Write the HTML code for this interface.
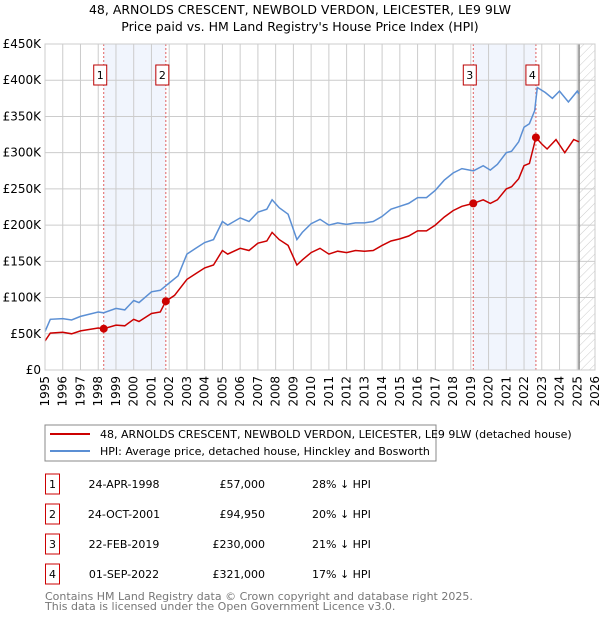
<!DOCTYPE html>
<html><head><meta charset="utf-8"><style>
body{margin:0;background:#fff;font-family:"DejaVu Sans","Liberation Sans",sans-serif;}
svg text{font-family:"DejaVu Sans","Liberation Sans",sans-serif;}
</style></head><body>
<svg id="c" width="600" height="620" xmlns="http://www.w3.org/2000/svg">
<defs><pattern id="hatch" width="6" height="6" patternUnits="userSpaceOnUse" patternTransform="rotate(45)"><line x1="0" y1="0" x2="0" y2="6" stroke="#ccc" stroke-width="1"/></pattern></defs>
<text x="300" y="14" text-anchor="middle" font-size="12.5">48, ARNOLDS CRESCENT, NEWBOLD VERDON, LEICESTER, LE9 9LW</text>
<text x="300" y="31" text-anchor="middle" font-size="12.5">Price paid vs. HM Land Registry's House Price Index (HPI)</text>
<g id="plot"></g>
<rect x="45" y="425" width="391" height="36" fill="#fff" stroke="#888"/>
<line x1="50" y1="434" x2="90" y2="434" stroke="#cc0000" stroke-width="2"/>
<text x="100" y="438" font-size="11">48, ARNOLDS CRESCENT, NEWBOLD VERDON, LEICESTER, LE9 9LW (detached house)</text>
<line x1="50" y1="451" x2="90" y2="451" stroke="#5b8fd4" stroke-width="2"/>
<text x="100" y="455" font-size="11">HPI: Average price, detached house, Hinckley and Bosworth</text>
<g id="table" font-size="11"></g>
<text x="45" y="600" font-size="11" fill="#777">Contains HM Land Registry data © Crown copyright and database right 2025.</text>
<text x="45" y="610" font-size="11" fill="#777">This data is licensed under the Open Government Licence v3.0.</text>
</svg>
<script>
const hpiX=[1995.0,1995.3,1996,1996.5,1997,1998,1998.3,1999,1999.5,2000,2000.3,2001,2001.5,2001.9,2002.5,2003,2003.5,2004,2004.5,2005,2005.3,2006,2006.5,2007,2007.5,2007.8,2008.2,2008.7,2009.2,2009.5,2010,2010.5,2011,2011.5,2012,2012.5,2013,2013.5,2014,2014.5,2015,2015.5,2016,2016.5,2017,2017.5,2018,2018.5,2019.15,2019.7,2020.1,2020.5,2021,2021.3,2021.7,2022,2022.3,2022.6,2022.75,2023.2,2023.6,2024,2024.5,2025.0,2025.1];
const hpiY=[53,70,71,69,74,80,79,85,83,96,93,108,110,118,130,160,168,176,180,205,200,210,205,218,222,235,224,215,180,190,202,208,200,203,201,203,203,205,212,222,226,230,238,238,248,262,272,278,275,282,276,284,300,302,315,335,340,358,390,383,375,385,370,385,381];
const ppX=[1995,1995.3,1996,1996.5,1997,1998,1998.31,1999,1999.5,2000,2000.3,2001,2001.5,2001.81,2002.3,2003,2003.5,2004,2004.5,2005,2005.3,2006,2006.5,2007,2007.5,2007.8,2008.2,2008.7,2009.2,2009.5,2010,2010.5,2011,2011.5,2012,2012.5,2013,2013.5,2014,2014.5,2015,2015.5,2016,2016.5,2017,2017.5,2018,2018.5,2019.14,2019.7,2020.1,2020.5,2021,2021.3,2021.7,2022,2022.3,2022.67,2023.0,2023.3,2023.8,2024.3,2024.8,2025.1];
const ppY=[40,51,52,50,54,58,57,62,61,70,67,78,80,95,103,125,133,141,145,165,160,168,165,175,178,190,180,172,145,152,162,168,160,164,162,165,164,165,172,178,181,185,192,192,200,211,220,226,230,235,230,235,250,253,264,282,285,321,312,305,318,300,318,315];
const saleX=[1998.31,2001.81,2019.14,2022.67];
const saleY=[57,94.95,230,321];
const saleLabels=["1","2","3","4"];
const saleDates=["24-APR-1998","24-OCT-2001","22-FEB-2019","01-SEP-2022"];
const salePrices=["£57,000","£94,950","£230,000","£321,000"];
const saleHpi=["28% ↓ HPI","20% ↓ HPI","21% ↓ HPI","17% ↓ HPI"];
const yTicks=[0,50,100,150,200,250,300,350,400,450];
const yTickLabels=["£0","£50K","£100K","£150K","£200K","£250K","£300K","£350K","£400K","£450K"];
const xYears=[1995,1996,1997,1998,1999,2000,2001,2002,2003,2004,2005,2006,2007,2008,2009,2010,2011,2012,2013,2014,2015,2016,2017,2018,2019,2020,2021,2022,2023,2024,2025,2026];
const L=45,R=595,T=44,B=370,X0=1995,X1=2026,YMAX=450,forecastStart=2025.1;
const sx=v=>L+(v-X0)*(R-L)/(X1-X0);
const sy=v=>B-v*(B-T)/YMAX;
const NS="http://www.w3.org/2000/svg";
function mk(parent,tag,attrs){const e=document.createElementNS(NS,tag);for(const k in attrs)e.setAttribute(k,attrs[k]);parent.appendChild(e);return e;}
const g=document.getElementById('plot');
let e;
e=mk(g,'rect',{x:sx(saleX[0]),y:T,width:sx(saleX[1])-sx(saleX[0]),height:B-T,fill:'#eef3fc',opacity:0.8});


e=mk(g,'rect',{x:sx(saleX[2]),y:T,width:sx(saleX[3])-sx(saleX[2]),height:B-T,fill:'#eef3fc',opacity:0.8});


e=mk(g,'rect',{x:sx(forecastStart),y:T,width:R-sx(forecastStart),height:B-T,fill:'url(#hatch)'});


yTicks.forEach((t,i)=>{
 e=mk(g,'line',{x1:L,x2:R,y1:sy(t),y2:sy(t),stroke:'#ccc'});
 
 
 e=mk(g,'text',{x:L-4,y:sy(t)+4,'text-anchor':'end','font-size':'12'});e.textContent=yTickLabels[i];
 
 
});
xYears.forEach(yr=>{
 e=mk(g,'line',{x1:sx(yr),x2:sx(yr),y1:T,y2:B,stroke:'#ccc'});
 
 
 e=mk(g,'text',{x:0,y:0,'text-anchor':'end','font-size':'12',transform:`translate(${sx(yr)+4},${B+6}) rotate(-90)`});e.textContent=yr;
 
 
});
e=mk(g,'line',{x1:sx(forecastStart),x2:sx(forecastStart),y1:T,y2:B,stroke:'#888','stroke-width':1.5});


saleX.forEach((v,i)=>{
 e=mk(g,'line',{x1:sx(v),x2:sx(v),y1:T,y2:B,stroke:'#e06060','stroke-dasharray':'2,2'});
 
 
});
const pts=(xs,ys)=>xs.map((x,i)=>sx(x).toFixed(1)+','+sy(ys[i]).toFixed(1)).join(' ');
e=mk(g,'polyline',{points:pts(hpiX,hpiY),fill:'none',stroke:'#5b8fd4','stroke-width':1.5});


e=mk(g,'polyline',{points:pts(ppX,ppY),fill:'none',stroke:'#cc0000','stroke-width':1.5});


saleX.forEach((v,i)=>{
 e=mk(g,'circle',{cx:sx(v),cy:sy(saleY[i]),r:4,fill:'#cc0000'});
 
 
 const bx=sx(v)-10;
 e=mk(g,'rect',{x:bx,y:65,width:13,height:20,fill:'#fff',stroke:'#b00'});
 
 
 e=mk(g,'text',{x:bx+6.5,y:79,'text-anchor':'middle','font-size':'11'});e.textContent=saleLabels[i];
 
 
});
e=mk(g,'rect',{x:L,y:T,width:R-L,height:B-T,fill:'none',stroke:'#ccc'});


const tb=document.getElementById('table');
saleLabels.forEach((lab,i)=>{
 const cy=483+30*i;
 e=mk(tb,'rect',{x:45.5,y:cy-9,width:14,height:20,fill:'#fff',stroke:'#cc0000'});
 
 
 e=mk(tb,'text',{x:52.5,y:cy+5,'text-anchor':'middle'});e.textContent=lab;
 
 
 e=mk(tb,'text',{x:124,y:cy+5,'text-anchor':'middle'});e.textContent=saleDates[i];
 
 
 e=mk(tb,'text',{x:265,y:cy+5,'text-anchor':'end'});e.textContent=salePrices[i];
 
 
 e=mk(tb,'text',{x:312,y:cy+5});e.textContent=saleHpi[i];
 
 
});
</script>
</body></html>
